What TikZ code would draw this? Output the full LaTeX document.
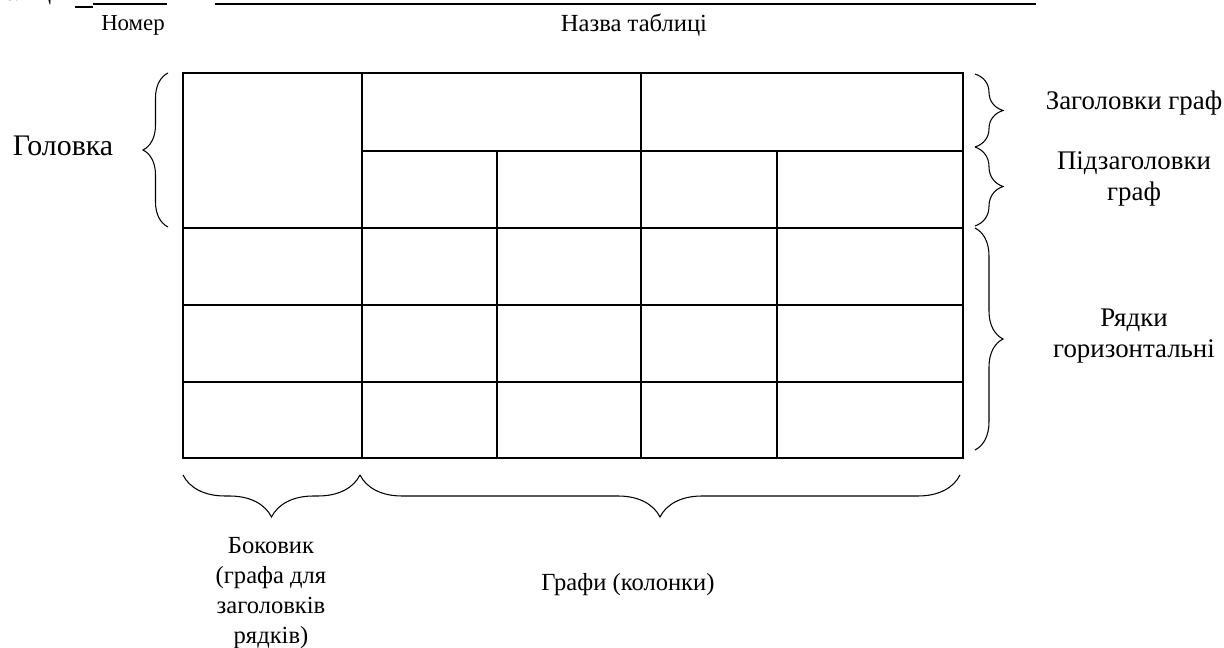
\documentclass[tikz,border=0pt]{standalone}
\usepackage{fontspec}
\setmainfont{Liberation Serif}
\usetikzlibrary{decorations.pathreplacing}
\begin{document}
\begin{tikzpicture}[x=0.02cm,y=-0.02cm,
  tline/.style={line width=1.2pt},
  brc/.style={decorate,decoration={brace,amplitude=#1},line width=0.6pt},
  lbl/.style={font=\fontsize{14}{17}\selectfont,align=center,inner sep=0pt},
  rlbl/.style={font=\fontsize{15.3}{17.2}\selectfont,align=center,inner sep=0pt},
  small/.style={font=\fontsize{13}{15}\selectfont,inner sep=0pt},
  rule/.style={line width=1.1pt}]
\useasboundingbox (0,0) rectangle (1224,648);
\clip (0,0) rectangle (1224,648);
% top line
\node[small,anchor=base east] (tab) at (62,1) {Таблиця};
\coordinate (u1) at (75,7); \coordinate (u2) at (93,7);
\coordinate (u3) at (93,4); \coordinate (u4) at (167,4);
\coordinate (n1) at (215,4); \coordinate (n2) at (1036,4);
\draw[rule] (u1) -- (u2);
\draw[rule] (u3) -- (u4);
\draw[rule] (n1) -- (n2);
\node[small] (nom) at (133,25) {Номер};
\node[small,font=\fontsize{14}{16}\selectfont] (naz) at (634,25) {Назва таблиці};
% table
\draw[tline] (183,73) rectangle (963,458);
\draw[tline] (362,73) -- (362,458);
\draw[tline] (641,73) -- (641,458);
\draw[tline] (497,151) -- (497,458);
\draw[tline] (777,151) -- (777,458);
\draw[tline] (362,151) -- (963,151);
\draw[tline] (183,228) -- (963,228);
\draw[tline] (183,305) -- (963,305);
\draw[tline] (183,382) -- (963,382);
% braces
\coordinate (lb1) at (168,227); \coordinate (lb2) at (168,73);
\draw[brc=0.5cm] (lb1) -- (lb2);
\coordinate (r1a) at (975,74); \coordinate (r1b) at (975,147);
\draw[brc=0.56cm] (r1a) -- (r1b);
\coordinate (r2a) at (975,147); \coordinate (r2b) at (975,226);
\draw[brc=0.56cm] (r2a) -- (r2b);
\coordinate (r3a) at (975,228); \coordinate (r3b) at (975,450);
\draw[brc=0.56cm] (r3a) -- (r3b);
\coordinate (b1a) at (360,475); \coordinate (b1b) at (183,475);
\draw[brc=0.84cm] (b1a) -- (b1b);
\coordinate (b2a) at (960,475); \coordinate (b2b) at (360,475);
\draw[brc=0.84cm] (b2a) -- (b2b);
% labels
\node[font=\fontsize{17}{20}\selectfont,inner sep=0pt] (gol) at (63,146) {Головка};
\node[rlbl] (zag) at (1134,103) {Заголовки граф};
\node[rlbl] (pid) at (1134,179) {Підзаголовки\\граф};
\node[rlbl] (ryad) at (1134,336) {Рядки\\горизонтальні};
\node[lbl] (bok) at (271,593) {Боковик\\(графа для\\заголовків\\рядків)};
\node[lbl] (graf) at (628,585) {Графи (колонки)};
\end{tikzpicture}
\end{document}
